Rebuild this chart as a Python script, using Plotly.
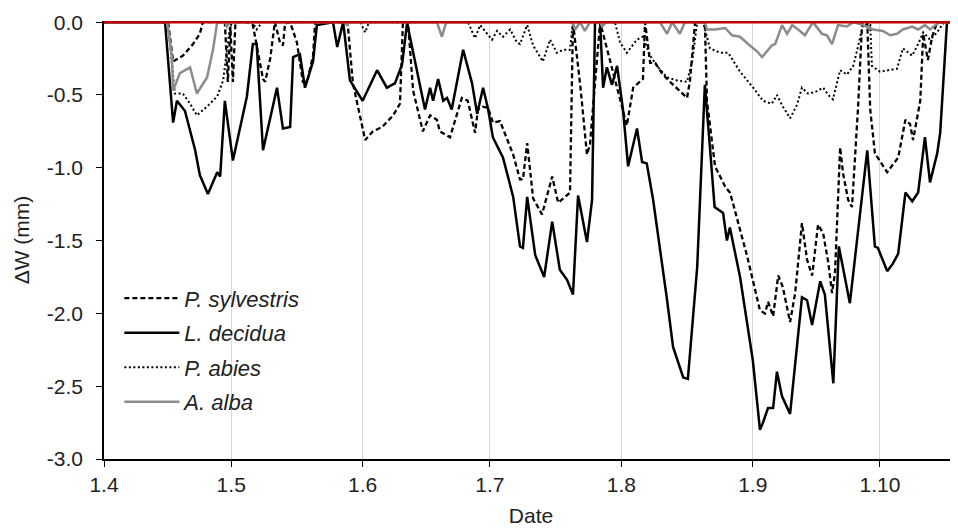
import pandas as pd
import plotly.graph_objects as go

START = pd.Timestamp("2015-04-01")

# Tick labels (day.month)
tick_days = [0, 30, 61, 91, 122, 153, 183]
tick_labels = ["1.4", "1.5", "1.6", "1.7", "1.8", "1.9", "1.10"]

# L. decidua (days since 1 April, ΔW mm)
decidua_day = [0, 14.4, 16.3, 17.2, 19.1, 21.5, 22.6, 24.5, 26.7, 27.4,
               28.5, 30.4, 33.7, 35.1, 36.0, 37.5, 40.8, 42.2, 43.9, 44.6,
               46.2, 47.4, 49.3, 50.2, 54.0, 55.0, 56.4, 58.0, 61.0, 64.4,
               66.7, 68.6, 70.3, 71.5, 72.0, 75.7, 76.9, 77.6, 78.8, 80.0,
               80.9, 82.0, 84.7, 86.8, 88.0, 89.4, 90.6, 91.7, 94.1, 96.5,
               98.1, 98.8, 99.8, 101.7, 103.8, 105.7, 107.5, 109.2, 110.6, 111.8,
               113.9, 115.1, 115.8, 117.0, 117.7, 118.6, 119.8, 121.0, 122.4, 123.6,
               125.7, 126.9, 128.0, 129.5, 132.8, 134.2, 136.6, 137.7, 139.9, 141.7,
               142.9, 144.0, 146.0, 146.9, 147.6, 150.0, 153.0, 154.7, 155.4, 156.6,
               157.8, 158.7, 159.9, 161.8, 164.6, 165.8, 167.0, 168.9, 170.0, 172.0,
               173.3, 175.9, 180.0, 181.8, 182.5, 184.7, 186.0, 187.3, 189.0, 190.6,
               192.0, 193.6, 194.8, 196.5, 197.2, 198.8, 201.5]
decidua_dw = [0, 0, -0.69, -0.54, -0.61, -0.88, -1.05, -1.18, -1.03, -1.06,
              -0.54, -0.95, -0.51, -0.15, -0.15, -0.88, -0.45, -0.73, -0.72, -0.24,
              -0.22, -0.45, -0.27, -0.02, 0, -0.17, 0, -0.40, -0.54, -0.33,
              -0.45, -0.42, -0.29, 0, -0.08, -0.60, -0.45, -0.54, -0.39, -0.54,
              -0.52, -0.60, -0.19, -0.42, -0.63, -0.45, -0.60, -0.79, -0.93, -1.20,
              -1.54, -1.55, -1.20, -1.60, -1.75, -1.37, -1.70, -1.77, -1.87, -1.19,
              -1.51, -1.22, 0, 0, -0.45, -0.31, -0.43, -0.30, -0.60, -0.99,
              -0.73, -0.96, -0.97, -1.22, -1.91, -2.23, -2.44, -2.45, -1.68, -0.43,
              -0.86, -1.27, -1.31, -1.50, -1.41, -1.75, -2.32, -2.80, -2.75, -2.65,
              -2.65, -2.40, -2.57, -2.69, -1.89, -1.91, -2.08, -1.78, -1.87, -2.48,
              -1.54, -1.93, -0.88, -1.54, -1.55, -1.71, -1.66, -1.59, -1.17, -1.23,
              -1.17, -0.79, -1.10, -0.90, -0.76, 0, 0]

# P. sylvestris
sylvestris_day = [0, 15.1, 16.3, 18.6, 21.0, 22.6, 23.3, 28.5, 29.2, 29.8,
                  30.4, 31.0, 33.7, 35.1, 37.5, 38.0, 39.2, 40.3, 41.5, 42.2,
                  42.7, 43.9, 45.5, 46.9, 47.9, 49.3, 49.8, 56.8, 57.5, 58.7,
                  61.6, 63.4, 65.6, 68.2, 69.8, 70.5, 71.7, 72.9, 75.2, 76.9,
                  78.5, 79.2, 81.6, 84.4, 85.8, 87.5, 88.2, 89.4, 90.6, 91.7,
                  93.4, 95.0, 96.5, 98.1, 98.8, 99.8, 101.2, 103.3, 105.7, 107.1,
                  109.9, 110.6, 112.3, 113.9, 114.6, 117.0, 123.3, 124.8, 127.1, 127.6,
                  128.8, 130.0, 131.8, 133.5, 135.8, 137.5, 138.2, 139.4, 141.7, 142.2,
                  144.1, 146.5, 147.6, 148.3, 151.7, 154.7, 155.9, 156.6, 157.8, 159.0,
                  160.1, 161.8, 163.0, 164.6, 165.8, 167.0, 168.4, 169.6, 170.8, 171.7,
                  172.4, 173.6, 174.3, 175.5, 176.4, 177.8, 178.8, 180.0, 180.7, 181.8,
                  184.7, 187.3, 189.0, 190.1, 190.8, 192.5, 193.2, 194.3, 195.3, 196.5,
                  201.5]
sylvestris_dw = [0, 0, -0.27, -0.23, -0.15, -0.08, 0, 0, -0.41, -0.03,
                 -0.41, 0, 0, -0.02, -0.39, -0.41, -0.25, 0, -0.14, -0.16,
                 -0.01, 0, -0.14, -0.41, -0.41, -0.23, 0, 0, -0.02, -0.42,
                 -0.81, -0.75, -0.72, -0.64, -0.56, 0, 0, -0.47, -0.75, -0.64,
                 -0.67, -0.75, -0.79, -0.52, -0.54, -0.76, -0.60, -0.58, -0.59, -0.69,
                 -0.68, -0.80, -0.91, -1.08, -1.08, -0.83, -1.21, -1.32, -1.06, -1.24,
                 -1.17, 0, -0.43, -0.91, -0.84, 0, -0.71, -0.45, -0.39, 0,
                 -0.28, -0.28, -0.36, -0.41, -0.47, -0.52, -0.40, 0, 0, -0.54,
                 -0.99, -1.13, -1.17, -1.24, -1.61, -1.98, -2.00, -1.92, -2.02, -1.74,
                 -1.82, -2.06, -1.86, -1.38, -1.63, -1.74, -1.39, -1.45, -1.65, -1.86,
                 -1.72, -0.86, -1.04, -1.22, -1.27, -0.60, 0, 0, -0.60, -0.90,
                 -1.03, -0.93, -0.67, -0.70, -0.81, -0.54, -0.08, -0.26, -0.10, 0,
                 0]

# P. abies
abies_day = [0, 15.1, 16.7, 18.6, 20.3, 21.9, 24.3, 26.7, 28.1, 29.0,
             29.7, 30.4, 35.0, 36.0, 37.3, 60.4, 61.6, 62.5, 85.8, 86.3,
             87.5, 88.7, 91.5, 92.7, 94.1, 95.8, 97.4, 98.1, 99.8, 101.2,
             103.5, 105.2, 106.8, 108.3, 109.9, 110.6, 120.5, 121.7, 123.3, 125.7,
             127.1, 128.8, 130.4, 132.8, 135.1, 137.5, 138.7, 139.9, 141.3, 142.9,
             145.3, 147.2, 150.0, 153.1, 155.4, 157.5, 158.7, 159.9, 161.8, 163.4,
             164.6, 166.0, 167.7, 169.6, 170.8, 171.9, 173.6, 175.2, 176.7, 177.8,
             179.0, 180.7, 181.1, 183.0, 185.4, 187.0, 188.4, 190.6, 192.0, 193.2,
             194.8, 196.5, 197.6, 198.3, 201.5]
abies_dw = [0, 0, -0.49, -0.49, -0.56, -0.64, -0.58, -0.51, -0.40, -0.19,
            -0.03, 0, 0, -0.05, 0, 0, -0.07, 0, 0, -0.03,
            -0.11, -0.02, -0.12, -0.06, -0.10, -0.05, -0.14, -0.15, -0.02, -0.16,
            -0.27, -0.12, -0.21, -0.19, -0.19, 0, 0, -0.14, -0.21, -0.12,
            -0.10, -0.23, -0.30, -0.38, -0.40, -0.41, -0.27, 0, 0, -0.18,
            -0.21, -0.21, -0.34, -0.45, -0.54, -0.56, -0.50, -0.57, -0.66, -0.57,
            -0.45, -0.49, -0.48, -0.45, -0.50, -0.53, -0.33, -0.36, -0.30, -0.17,
            -0.02, -0.02, -0.30, -0.34, -0.33, -0.32, -0.18, -0.23, -0.15, -0.07,
            -0.12, -0.07, -0.02, 0, 0]

# A. alba
alba_day = [0, 14.9, 16.0, 16.3, 17.9, 20.3, 21.9, 24.3, 25.7, 26.7,
            28.5, 29.0, 29.7, 56.8, 57.3, 58.0, 78.5, 79.7, 80.7, 110.4,
            111.1, 112.3, 113.4, 114.6, 117.0, 117.5, 118.4, 131.1, 132.8, 134.0,
            135.8, 137.0, 141.7, 142.2, 144.1, 146.5, 148.1, 150.0, 151.9, 154.0,
            155.2, 156.4, 157.5, 158.3, 159.9, 161.1, 162.3, 163.7, 165.3, 167.2,
            169.3, 170.5, 171.7, 173.1, 175.2, 176.7, 179.0, 181.4, 183.7, 185.4,
            187.0, 188.4, 190.6, 192.0, 193.6, 194.8, 196.5, 197.9, 201.5]
alba_dw = [0, 0, -0.24, -0.47, -0.35, -0.31, -0.49, -0.38, -0.19, 0,
           0, -0.03, 0, 0, -0.02, 0, 0, -0.10, 0, 0,
           -0.05, 0, -0.06, 0, 0, -0.03, 0, 0, -0.08, 0,
           -0.08, 0, 0, -0.05, -0.05, -0.04, -0.09, -0.10, -0.15, -0.20,
           -0.24, -0.20, -0.16, -0.15, -0.02, -0.08, -0.02, -0.05, -0.09, 0,
           -0.08, -0.09, -0.15, -0.02, -0.03, 0, -0.02, -0.05, -0.06, -0.09,
           -0.08, -0.05, -0.03, -0.05, -0.02, -0.05, -0.01, 0, 0]

# Zero reference line
ref_day = [0, 201.5]
ref_dw = [0, 0]


def to_dates(days):
    return [START + pd.Timedelta(days=d) for d in days]


FONT = "Liberation Sans, Arial, sans-serif"
TXT = "#222222"
fig = go.Figure()

series = [
    ("<i>P. sylvestris</i>", sylvestris_day, sylvestris_dw, "#000000", 2.3, "5px,3px"),
    ("<i>L. decidua</i>", decidua_day, decidua_dw, "#000000", 2.5, "solid"),
    ("<i>P. abies</i>", abies_day, abies_dw, "#000000", 2.0, "2px,2.5px"),
    ("<i>A. alba</i>", alba_day, alba_dw, "#8c8c8c", 2.5, "solid"),
]
for i, (name, d, v, col, w, dash) in enumerate(series):
    fig.add_trace(go.Scatter(
        x=to_dates(d), y=v, mode="lines", name=name,
        legendgroup=f"g{i}",
        line=dict(color=col, width=w, dash=dash),
    ))

fig.add_trace(go.Scatter(
    x=to_dates(ref_day), y=ref_dw, mode="lines", showlegend=False,
    line=dict(color="#c00000", width=2.5), hoverinfo="skip",
))

# The page body has an 8px margin, so the figure is 950x520 placed at (8, 8).
fig.update_layout(
    width=950, height=520,
    margin=dict(l=96, r=0, t=13, b=69, autoexpand=False),
    paper_bgcolor="white", plot_bgcolor="white",
    font=dict(family=FONT, size=21, color=TXT),
    showlegend=True,
    legend=dict(
        x=0.018, y=0.415, xanchor="left", yanchor="top",
        bgcolor="rgba(255,255,255,0)", borderwidth=0,
        font=dict(family=FONT, size=22, color=TXT),
        tracegroupgap=3, itemwidth=55,
    ),
    xaxis=dict(
        type="date", automargin=False,
        range=[START, START + pd.Timedelta(days=201.4)],
        tickvals=to_dates(tick_days), ticktext=tick_labels,
        showgrid=True, gridcolor="#d9d9d9", gridwidth=1,
        showline=True, linecolor="#000000", linewidth=1.5,
        ticks="outside", ticklen=6, tickcolor="#000000",
        zeroline=False,
        title=dict(text="Date", standoff=13, font=dict(size=21)),
        tickfont=dict(size=21),
    ),
    yaxis=dict(
        range=[-3.0, 0.008], automargin=False,
        tickvals=[0, -0.5, -1.0, -1.5, -2.0, -2.5, -3.0],
        ticktext=["0.0", "-0.5", "-1.0", "-1.5", "-2.0", "-2.5", "-3.0"],
        showgrid=False, zeroline=False,
        showline=True, linecolor="#000000", linewidth=1.5,
        ticks="outside", ticklen=6, tickcolor="#000000",
        ticklabelstandoff=9,
        title=dict(text="ΔW (mm)", standoff=12, font=dict(size=21)),
        tickfont=dict(size=21),
    ),
)

fig.write_html("out.html")
